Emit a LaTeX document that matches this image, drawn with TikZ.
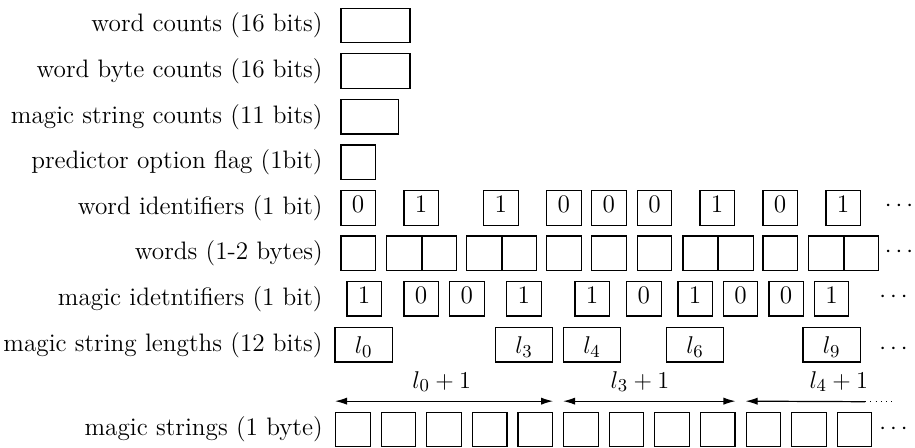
\documentclass[tikz,border=0pt]{standalone}
\usetikzlibrary{arrows.meta}
\begin{document}
\begin{tikzpicture}[x=0.0173913cm, y=-0.0173913cm,
  font=\fontsize{12.5}{15}\selectfont,
  box/.style={draw, line width=0.6pt, minimum width=0.6cm, minimum height=0.6cm, inner sep=0pt, anchor=west},
  widebox/.style={box, minimum width=1.2cm},
  midbox/.style={box, minimum width=1cm},
  bitbox/.style={box, text height=8pt, text depth=3pt},
  lenbox/.style={box, minimum width=1cm, text height=9pt, text depth=0pt},
  lbl/.style={anchor=east, inner sep=0pt},
  more/.style={anchor=base, inner sep=0pt},
  spanlbl/.style={anchor=base, inner sep=0pt},
  tip/.tip={Latex[length=6pt,width=3.6pt]},
  span/.style={line width=0.6pt, tip-tip},
]
\useasboundingbox (0,0) rectangle (915,447);

% row labels
\node[lbl] (L1) at (323,25.5) {word counts (16 bits)};
\node[lbl] (L2) at (323,71) {word byte counts (16 bits)};
\node[lbl] (L3) at (323,116.7) {magic string counts (11 bits)};
\node[lbl] (L4) at (323,162.3) {predictor option flag (1bit)};
\node[lbl] (L5) at (323,207.9) {word identifiers (1 bit)};
\node[lbl] (L6) at (323,253.3) {words (1-2 bytes)};
\node[lbl] (L7) at (323,298.8) {magic idetntifiers (1 bit)};
\node[lbl] (L8) at (323,344.8) {magic string lengths (12 bits)};
\node[lbl] (L9) at (323,429.6) {magic strings (1 byte)};

% header fields
\node[widebox] (wc) at (340.3,25.5) {};
\node[widebox] (wbc) at (340.3,71) {};
\node[midbox] (msc) at (340.3,116.7) {};
\node[box] (pof) at (340.3,162.3) {};

% word identifiers
\foreach \x/\v [count=\i] in {340.3/0,403.3/1,483/1,546/0,591/0,636.7/0,699.3/1,762.3/0,825.3/1}
  \node[bitbox] (wi\i) at (\x,207.9) {\v};
\node[more] (dwi) at (899,211) {$\cdots$};

% words
\foreach \x [count=\i] in {340.3,546,591,636.7,762.3}
  \node[box] (ws\i) at (\x,253.3) {};
\foreach \x [count=\i] in {386,466,682.3,808} {
  \node[box] (wdA\i) at (\x,253.3) {};
  \node[box] (wdB\i) at (wdA\i.east) {};
}
\node[more] (dws) at (899,257) {$\cdots$};

% magic identifiers
\foreach \x/\v [count=\i] in {346.3/1,403.3/0,449/0,506/1,574.3/1,626/0,677.3/1,722.7/0,768.3/0,813.7/1}
  \node[bitbox] (mi\i) at (\x,298.8) {\v};
\node[more] (dmi) at (893.5,302.7) {$\cdots$};

% magic string lengths
\foreach \x/\v in {334.3/0,494.7/3,562.7/4,665.7/6,802.3/9}
  \node[lenbox] (ml\v) at (\x,344.8) {$l_{\v}$};
\node[more] (dml) at (893.5,354.3) {$\cdots$};

% magic strings
\foreach \i in {0,...,11}
  \node[box] (ms\i) at (335+45.61*\i,429.6) {};
\node[more] (dms) at (893.5,434.3) {$\cdots$};

% spans
\path (ms0.north west) ++(0,-10.6) coordinate (a0);
\path (ms4.north east) ++(0,-10.6) coordinate (a4);
\path (ms5.north west) ++(0,-10.6) coordinate (a5);
\path (ms8.north east) ++(0,-10.6) coordinate (a8);
\path (ms9.north west) ++(0,-10.6) coordinate (a9);
\coordinate (c1) at (865,401.7);
\coordinate (c2) at (891.7,401.7);
\draw[span] (a0) -- (a4);
\draw[span] (a5) -- (a8);
\draw[line width=0.6pt, tip-] (a9) -- (c1);
\draw[line width=0.6pt, dotted] (c1) -- (c2);

\node[spanlbl] (s0) at (441.7,388.3) {$l_0+1$};
\node[spanlbl] (s3) at (640,388.3) {$l_3+1$};
\node[spanlbl] (s4) at (838.8,388.3) {$l_4+1$};
\end{tikzpicture}
\end{document}
